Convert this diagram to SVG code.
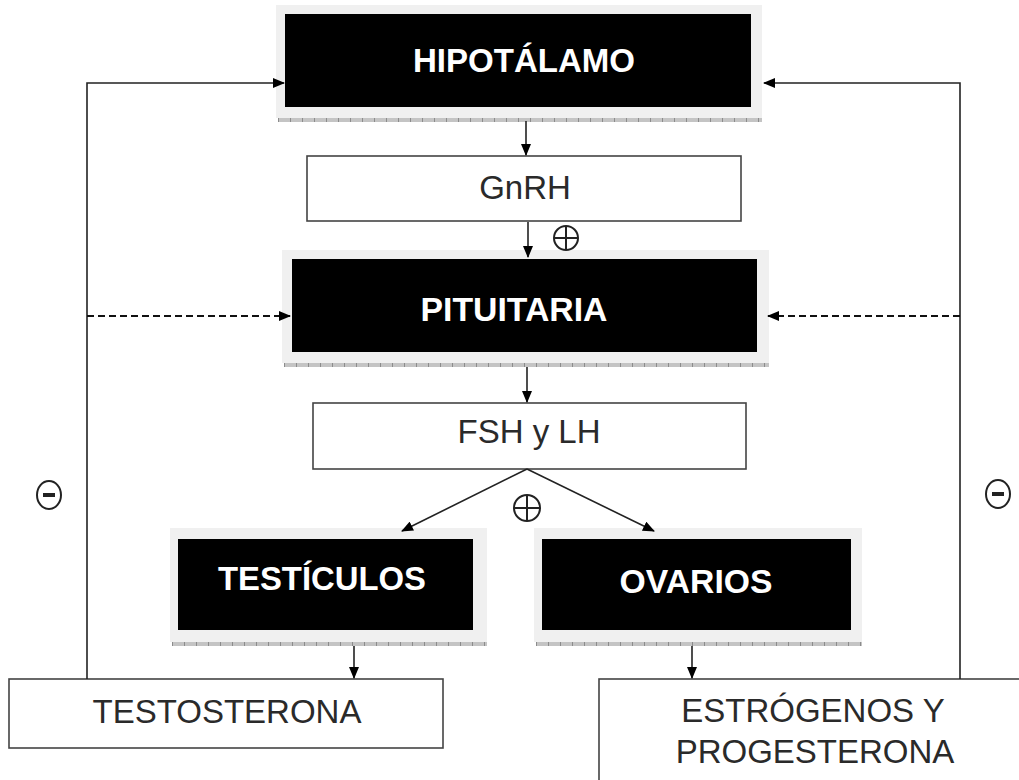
<svg xmlns="http://www.w3.org/2000/svg" width="1019" height="780" viewBox="0 0 1019 780">
<defs>
<marker id="ah" viewBox="0 0 12 10" refX="11" refY="5" markerWidth="12" markerHeight="10" markerUnits="userSpaceOnUse" orient="auto">
<path d="M0,0 L12,5 L0,10 Z" fill="#000"/>
</marker>
<style>
.frame{fill:#f0f0f0;}
.blk{fill:#000;}
.strip{stroke:#c4c4c4;stroke-width:4;}
.ticks{stroke:#8c8c8c;stroke-width:4;stroke-dasharray:1 11;}
.box{fill:#fff;stroke:#444;stroke-width:1.6;}
.bt{font-family:"Liberation Sans",Arial,sans-serif;font-weight:bold;font-size:34px;fill:#fff;text-anchor:middle;}
.rt{font-family:"Liberation Sans",Arial,sans-serif;font-size:33px;fill:#2a2a2a;text-anchor:middle;}
.ln{fill:none;stroke:#222;stroke-width:1.6;}
.dl{fill:none;stroke:#111;stroke-width:2;stroke-dasharray:7 4;}
.sym{fill:none;stroke:#222;stroke-width:2;}
</style>
</defs>
<rect width="1019" height="780" fill="#fff"/>

<g id="hipotalamo">
<rect class="frame" x="276" y="5" width="486" height="113"/>
<rect class="blk" x="285" y="14" width="466" height="93"/>
<line class="strip" x1="278" y1="120" x2="762" y2="120"/>
<line class="ticks" x1="278" y1="120" x2="762" y2="120"/>
<text class="bt" x="524" y="72" textLength="222" lengthAdjust="spacingAndGlyphs">HIPOTÁLAMO</text>
</g>

<g id="gnrh">
<rect class="box" x="307" y="156" width="434" height="65"/>
<text class="rt" x="525" y="199">GnRH</text>
</g>

<g id="pituitaria">
<rect class="frame" x="282" y="250" width="487" height="113"/>
<rect class="blk" x="292" y="259" width="465" height="93"/>
<line class="strip" x1="284" y1="365" x2="769" y2="365"/>
<line class="ticks" x1="284" y1="365" x2="769" y2="365"/>
<text class="bt" x="514" y="321" textLength="187" lengthAdjust="spacingAndGlyphs">PITUITARIA</text>
</g>

<g id="fsh-lh">
<rect class="box" x="313" y="403" width="433" height="66"/>
<text class="rt" x="529" y="443">FSH y LH</text>
</g>

<g id="testiculos">
<rect class="frame" x="170" y="528" width="317" height="114"/>
<rect class="blk" x="178" y="539" width="295" height="91"/>
<line class="strip" x1="172" y1="644" x2="487" y2="644"/>
<line class="ticks" x1="172" y1="644" x2="487" y2="644"/>
<text class="bt" x="322" y="590" textLength="208" lengthAdjust="spacingAndGlyphs">TESTÍCULOS</text>
</g>

<g id="ovarios">
<rect class="frame" x="534" y="528" width="328" height="114"/>
<rect class="blk" x="542" y="539" width="309" height="91"/>
<line class="strip" x1="536" y1="644" x2="862" y2="644"/>
<line class="ticks" x1="536" y1="644" x2="862" y2="644"/>
<text class="bt" x="696" y="593" textLength="153" lengthAdjust="spacingAndGlyphs">OVARIOS</text>
</g>

<g id="testosterona">
<rect class="box" x="9" y="679" width="434" height="69"/>
<text class="rt" x="227" y="723">TESTOSTERONA</text>
</g>

<g id="estrogenos">
<rect class="box" x="599" y="679" width="440" height="120"/>
<text class="rt" x="813" y="722">ESTRÓGENOS Y</text>
<text class="rt" x="815" y="763">PROGESTERONA</text>
</g>

<g id="connectors">
<line class="ln" x1="526" y1="121" x2="526" y2="155" marker-end="url(#ah)"/>
<line class="ln" x1="528" y1="222" x2="528" y2="257" marker-end="url(#ah)"/>
<line class="ln" x1="527" y1="367" x2="527" y2="402" marker-end="url(#ah)"/>
<line class="ln" x1="527" y1="469" x2="402" y2="531" marker-end="url(#ah)"/>
<line class="ln" x1="527" y1="469" x2="654" y2="531" marker-end="url(#ah)"/>
<line class="ln" x1="354" y1="646" x2="354" y2="678" marker-end="url(#ah)"/>
<line class="ln" x1="692" y1="646" x2="692" y2="678" marker-end="url(#ah)"/>
<polyline class="ln" points="87,679 87,83 284,83" marker-end="url(#ah)"/>
<polyline class="ln" points="960,679 960,83 764,83" marker-end="url(#ah)"/>
<line class="dl" x1="87" y1="316" x2="290" y2="316" marker-end="url(#ah)"/>
<line class="dl" x1="960" y1="316" x2="768" y2="316" marker-end="url(#ah)"/>
</g>

<g id="signs">
<circle class="sym" cx="566" cy="238" r="12"/>
<path class="sym" d="M554,238 H578 M566,226 V250"/>
<circle class="sym" cx="527" cy="508" r="13"/>
<path class="sym" d="M514,508 H540 M527,495 V521"/>
<ellipse class="sym" cx="49" cy="495" rx="12" ry="14"/>
<path d="M43,495 H55" stroke="#222" stroke-width="4"/>
<ellipse class="sym" cx="998" cy="494" rx="12" ry="14"/>
<path d="M992,494 H1004" stroke="#222" stroke-width="4"/>
</g>
</svg>
